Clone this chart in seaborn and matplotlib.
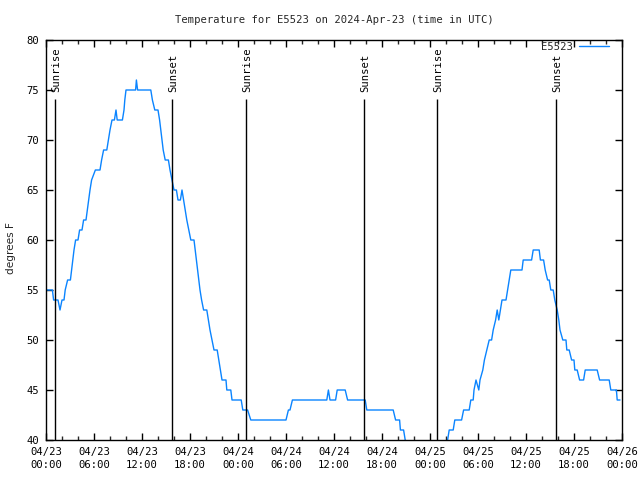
import matplotlib
matplotlib.use("Agg")
import matplotlib.pyplot as plt
import seaborn as sns
import pandas as pd

# ---- data (hours since 2024-04-23 00:00 UTC, temperature in F) ----
hours = [0.0, 0.8, 0.95, 1.5, 1.75, 2.0, 2.25, 2.4, 2.7, 3.05, 3.2, 3.35, 3.5, 3.7, 4.0,
         4.2, 4.5, 4.7, 5.0, 5.17, 5.33, 5.5, 5.7, 6.17, 6.75, 6.95, 7.2, 7.6, 7.8, 8.0,
         8.25, 8.55, 8.75, 8.9, 9.55, 9.75, 9.85, 10.0, 11.2, 11.3, 11.45, 13.1, 13.3,
         13.6, 14.0, 14.2, 14.35, 14.5, 14.65, 14.9, 15.3, 15.5, 15.75, 16.0, 16.3, 16.5,
         16.8, 17.0, 17.2, 17.4, 17.6, 17.85, 18.1, 18.5, 18.65, 18.8, 18.95, 19.1, 19.25,
         19.45, 19.7, 20.1, 20.3, 20.5, 20.75, 21.0, 21.4, 21.6, 21.8, 22.0, 22.5, 22.6,
         23.1, 23.25, 24.4, 24.6, 25.2, 25.6, 30.0, 30.3, 30.5, 30.8, 35.1, 35.3, 35.5,
         36.2, 36.4, 37.4, 37.7, 39.9, 40.1, 43.4, 43.7, 44.2, 44.3, 44.7, 44.9, 45.1,
         45.4, 49.8, 50.2, 50.4, 50.9, 51.1, 51.95, 52.2, 52.9, 53.1, 53.4, 53.5, 53.75,
         54.1, 54.25, 54.6, 54.8, 55.1, 55.4, 55.7, 55.9, 56.2, 56.4, 56.6, 56.8, 57.0,
         57.5, 57.7, 57.9, 58.1, 59.5, 59.65, 60.7, 60.9, 61.65, 61.8, 62.2, 62.4, 62.7,
         62.9, 63.1, 63.4, 63.6, 63.9, 64.1, 64.25, 64.6, 65.0, 65.1, 65.4, 65.7, 66.0,
         66.1, 66.4, 66.7, 67.2, 67.4, 68.9, 69.2, 70.4, 70.6, 71.3, 71.4, 71.75]
temps = [55, 55, 54, 54, 53, 54, 54, 55, 56, 56, 57, 58, 59, 60, 60,
         61, 61, 62, 62, 63, 64, 65, 66, 67, 67, 68, 69, 69, 70, 71,
         72, 72, 73, 72, 72, 73, 74, 75, 75, 76, 75, 75, 74,
         73, 73, 72, 71, 70, 69, 68, 68, 67, 66, 65, 65, 64,
         64, 65, 64, 63, 62, 61, 60, 60, 59, 58, 57, 56, 55,
         54, 53, 53, 52, 51, 50, 49, 49, 48, 47, 46, 46, 45,
         45, 44, 44, 43, 43, 42, 42, 43, 43, 44, 44, 45, 44,
         44, 45, 45, 44, 44, 43, 43, 42, 42, 41, 41, 40, 39,
         38, 38, 40, 41, 41, 42, 42, 43, 43, 44, 44, 45, 46,
         45, 46, 47, 48, 49, 50, 50, 51, 52, 53, 52, 53, 54,
         54, 55, 56, 57, 57, 58, 58, 59, 59, 58, 58, 57, 56,
         56, 55, 55, 54, 53, 52, 51, 50, 50, 49, 49, 48, 48,
         47, 47, 46, 46, 47, 47, 46, 46, 45, 45, 44, 44]

event_hours = [1.15, 15.8, 25.05, 39.8, 48.9, 63.8]
event_names = ["Sunrise", "Sunset", "Sunrise", "Sunset", "Sunrise", "Sunset"]

xtick_hours = [0, 6, 12, 18, 24, 30, 36, 42, 48, 54, 60, 66, 72]
xtick_labels = ["04/23\n00:00", "04/23\n06:00", "04/23\n12:00", "04/23\n18:00",
                "04/24\n00:00", "04/24\n06:00", "04/24\n12:00", "04/24\n18:00",
                "04/25\n00:00", "04/25\n06:00", "04/25\n12:00", "04/25\n18:00",
                "04/26\n00:00"]
ytick_values = [40, 45, 50, 55, 60, 65, 70, 75, 80]

series_name = "E5523"
title = "Temperature for E5523 on 2024-Apr-23 (time in UTC)"
ylabel = "degrees F"

# ---- plot ----
sns.set_style("ticks")
plt.rcParams["font.family"] = ["DejaVu Sans Mono", "DejaVu Sans"]

FS = 7.6

fig = plt.figure(figsize=(6.4, 4.8), dpi=100)
ax = fig.add_axes([46 / 640, 40 / 480, 576 / 640, 400 / 480])

df = pd.DataFrame({"hour": hours, "temp": temps})
sns.lineplot(data=df, x="hour", y="temp", ax=ax, color="#0a84ff", linewidth=1.0,
             estimator=None, sort=False, label=series_name)

ax.vlines(event_hours, 40, 74.1, color="black", linewidth=1.0)
for h, name in zip(event_hours, event_names):
    ax.text(h + 0.1, 74.8, name, rotation=90, ha="center", va="bottom",
            fontsize=FS, color="black")

ax.set_xlim(0, 72)
ax.set_ylim(40, 80)
ax.set_xticks(xtick_hours)
ax.set_xticklabels(xtick_labels, fontsize=FS, linespacing=1.4)
ax.set_xticks(list(range(0, 73, 2)), minor=True)
ax.set_yticks(ytick_values)
ax.set_yticklabels([str(v) for v in ytick_values], fontsize=FS)
ax.tick_params(axis="both", which="major", direction="in", length=5, width=1,
               top=True, right=True, pad=5, colors="black")
ax.tick_params(axis="x", which="minor", direction="in", length=3, width=1,
               top=True, bottom=True)
for s in ax.spines.values():
    s.set_visible(True)
    s.set_color("black")
    s.set_linewidth(1.0)

ax.set_xlabel("")
ax.set_ylabel(ylabel, fontsize=FS, family="DejaVu Sans")
ax.yaxis.set_label_coords(-(46 - 16) / 576, 0.48)
ax.set_title(title, fontsize=FS, pad=12)

leg = ax.legend(loc="center right", bbox_to_anchor=(609 / 640, (480 - 47) / 480),
                bbox_transform=fig.transFigure, frameon=False, markerfirst=False,
                fontsize=FS, handlelength=2.8, borderaxespad=0, handletextpad=0.6,
                borderpad=0)

fig.savefig("out.png", dpi=100)
